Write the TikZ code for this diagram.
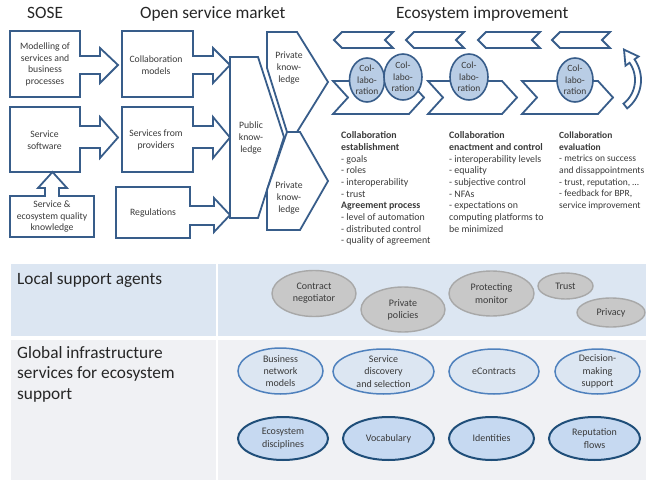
\documentclass[tikz,border=0pt]{standalone}
\usepackage{fontspec}
\setmainfont{Carlito}
\definecolor{ln}{HTML}{385D8A}
\definecolor{txt}{HTML}{3A3A3A}
\definecolor{ttl}{HTML}{262626}
\definecolor{collfill}{HTML}{B9CDE5}
\definecolor{bandA}{HTML}{DCE6F2}
\definecolor{bandB}{HTML}{F0F1F4}
\definecolor{grayfill}{HTML}{C8C8C8}
\definecolor{grayline}{HTML}{A8A8A8}
\definecolor{lightfill}{HTML}{DCE6F2}
\definecolor{lightline}{HTML}{4F81BD}
\definecolor{darkfill}{HTML}{C6D9F1}
\definecolor{darkline}{HTML}{1F4E79}
\begin{document}
\begin{tikzpicture}[x=1pt,y=-1pt,
  blockshape/.style={draw=ln, line width=1.8pt, fill=white, line join=miter},
  boxtext/.style={font=\fontsize{9.7}{11.7}\selectfont, text=txt, align=center, inner sep=0pt},
  titletext/.style={font=\fontsize{17.3}{20.7}\selectfont, text=ttl, inner sep=0pt},
  coltext/.style={font=\fontsize{9.9}{11.7}\selectfont, text=txt, align=left, anchor=north west, inner sep=0pt},
  collabell/.style={draw=ln, line width=1.6pt, fill=collfill},
  grayell/.style={draw=grayline, line width=1.4pt, fill=grayfill},
  lightell/.style={draw=lightline, line width=1.5pt, fill=lightfill},
  darkell/.style={draw=darkline, line width=2pt, fill=darkfill},
  elltext/.style={font=\fontsize{9.5}{11.7}\selectfont, text=txt, align=center, inner sep=0pt},
  bottext/.style={font=\fontsize{10}{12.2}\selectfont, text=txt, align=center, inner sep=0pt}
]
\useasboundingbox (0,0) rectangle (646,482);

% ---------- titles
\node[titletext, anchor=base west] (tsose) at (27,18.5) {SOSE};
\node[titletext, anchor=base west] (tosm) at (140,18.5) {Open service market};
\node[titletext, anchor=base west] (teco) at (396,18.5) {Ecosystem improvement};

% ---------- SOSE / market boxes with block arrows
\draw[blockshape] (10,31) -- (80,31) -- (80,56) -- (100,56) -- (100,48) -- (118,65) -- (100,83) -- (100,74) -- (80,74) -- (80,97) -- (10,97) -- cycle;
\node[boxtext] (mod) at (45,64.5) {Modelling of\\services and\\business\\processes};

\draw[blockshape] (122,31) -- (193,31) -- (193,56) -- (213,56) -- (213,48) -- (230,65) -- (213,83) -- (213,74) -- (193,74) -- (193,97) -- (122,97) -- cycle;
\node[boxtext] (colm) at (156,65) {Collaboration\\models};

\draw[blockshape] (10,107) -- (80,107) -- (80,126) -- (100,126) -- (100,117) -- (118,137.5) -- (100,158) -- (100,148) -- (80,148) -- (80,172) -- (10,172) -- cycle;
\node[boxtext] (ssw) at (44.5,140) {Service\\software};

\draw[blockshape] (122,107) -- (193,107) -- (193,126) -- (213,126) -- (213,117) -- (230,137.5) -- (213,158) -- (213,148) -- (193,148) -- (193,172) -- (122,172) -- cycle;
\node[boxtext] (sfp) at (156,140) {Services from\\providers};

\draw[blockshape] (10,196) -- (45,196) -- (45,188) -- (38,188) -- (52.5,172) -- (67,188) -- (59,188) -- (59,196) -- (94,196) -- (94,237) -- (10,237) -- cycle;
\node[boxtext] (seq) at (52,216.5) {Service \&\\ecosystem quality\\knowledge};

\draw[blockshape] (116,187) -- (190,187) -- (190,206) -- (214,206) -- (214,198) -- (230,215) -- (214,232) -- (214,225) -- (190,225) -- (190,238) -- (116,238) -- cycle;
\node[boxtext] (reg) at (153,213) {Regulations};

% ---------- knowledge shapes
\draw[blockshape] (230,57) -- (258,57) -- (284,137) -- (258,218) -- (230,218) -- cycle;
\node[boxtext] (pubk) at (251,138) {Public\\know-\\ledge};
\draw[blockshape] (267,32) -- (297,32) -- (328,82) -- (297,132) -- (287,132) -- (267,68) -- cycle;
\node[boxtext] (prk1) at (289,68) {Private\\know-\\ledge};
\draw[blockshape] (287,132) -- (300,132) -- (328,181) -- (300,230) -- (267,230) -- (267,190) -- cycle;
\node[boxtext] (prk2) at (289,198) {Private\\know-\\ledge};

% ---------- ecosystem improvement chevrons (top row, pointing left)
\foreach \xl/\xr in {334/393, 406/464, 478/540, 552/610}{
  \draw[blockshape] (\xl,40) -- (\xl+8,32) -- (\xr,32) -- (\xr-8,40) -- (\xr,48) -- (\xl+8,48) -- cycle;
}
% second row, pointing right
\foreach \xl/\xr in {333/409, 428/502, 522/598}{
  \draw[blockshape] (\xl,81) -- (\xr,81) -- (\xr+15,97.5) -- (\xr,114) -- (\xl,114) -- (\xl+15,97.5) -- cycle;
}
% curved return arrow
\draw[blockshape] plot[domain=52:-35,samples=40] ({605+36*cos(\x)},{80+36*sin(\x)})
  -- (638.6,56.5) -- (624,49.6) -- (625.5,65.7)
  -- plot[domain=-35:52,samples=40] ({605+30*cos(\x)},{80+30*sin(\x)}) -- cycle;

% collaboration ellipses
\draw[collabell] (367,80) ellipse [x radius=17.5, y radius=22];
\node[elltext] (c1) at (367,80) {Col-\\labo-\\ration};
\draw[collabell] (403,77) ellipse [x radius=19, y radius=23];
\node[elltext] (c2) at (403,77) {Col-\\labo-\\ration};
\draw[collabell] (469,77) ellipse [x radius=19, y radius=23];
\node[elltext] (c3) at (469,77) {Col-\\labo-\\ration};
\draw[collabell] (575,80) ellipse [x radius=18, y radius=22];
\node[elltext] (c4) at (575,80) {Col-\\labo-\\ration};

% ---------- column texts
\node[coltext] (col1) at (341,131.5) {\textbf{Collaboration}\\\textbf{establishment}\\- goals\\- roles\\- interoperability\\- trust\\\textbf{Agreement process}\\- level of automation\\- distributed control\\- quality of agreement};
\node[coltext] (col2) at (449,131.5) {\textbf{Collaboration}\\\textbf{enactment and control}\\- interoperability levels\\- equality\\- subjective control\\- NFAs\\- expectations on\\computing platforms to\\be minimized};
\node[coltext, font=\fontsize{9.5}{11.7}\selectfont] (col3) at (559,131.5) {\textbf{Collaboration}\\\textbf{evaluation}\\- metrics on success\\and dissappointments\\- trust, reputation, …\\- feedback for BPR,\\service improvement};

% ---------- bands
\fill[bandA] (11,264) rectangle (216,336);
\fill[bandA] (217.5,264) rectangle (646,336);
\fill[bandB] (11,340) rectangle (216,480);
\fill[bandB] (217.5,340) rectangle (646,480);

\node[titletext, anchor=base west] (lsa) at (17,284) {Local support agents};
\node[titletext, anchor=north west, align=left] (gis) at (17,346) {Global infrastructure\\services for ecosystem\\support};

% local agents
\draw[grayell] (314,293.5) ellipse [x radius=42, y radius=23];
\node[bottext] (cneg) at (314,293.5) {Contract\\negotiator};
\draw[grayell] (403,309.5) ellipse [x radius=42, y radius=22.5];
\node[bottext] (ppol) at (403,309.5) {Private\\policies};
\draw[grayell] (491.5,293.5) ellipse [x radius=42.5, y radius=22.5];
\node[bottext] (pmon) at (491.5,293.5) {Protecting\\monitor};
\draw[grayell] (565.5,286) ellipse [x radius=27.5, y radius=13];
\node[bottext] (trust) at (565.5,286) {Trust};
\draw[grayell] (611,312.5) ellipse [x radius=34, y radius=14.5];
\node[bottext] (priv) at (611,312.5) {Privacy};

% global services, first row
\draw[lightell] (280.5,371) ellipse [x radius=42.5, y radius=23];
\node[bottext] (bnm) at (280.5,371) {Business\\network\\models};
\draw[lightell] (383.5,371.5) ellipse [x radius=50.5, y radius=22.5];
\node[bottext] (sds) at (383.5,371.5) {Service\\discovery\\and selection};
\draw[lightell] (494,371.5) ellipse [x radius=45, y radius=22.5];
\node[bottext] (ectr) at (494,371.5) {eContracts};
\draw[lightell] (597.5,371.5) ellipse [x radius=42.5, y radius=22.5];
\node[bottext] (dms) at (597.5,371.5) {Decision-\\making\\support};

% second row
\draw[darkell] (283,438.5) ellipse [x radius=45, y radius=21.5];
\node[bottext] (ecd) at (283,438.5) {Ecosystem\\disciplines};
\draw[darkell] (388.5,438.5) ellipse [x radius=45.5, y radius=21.5];
\node[bottext] (voc) at (388.5,438.5) {Vocabulary};
\draw[darkell] (491.5,438.5) ellipse [x radius=42.5, y radius=21.5];
\node[bottext] (ids) at (491.5,438.5) {Identities};
\draw[darkell] (594.5,438.5) ellipse [x radius=45.5, y radius=21.5];
\node[bottext] (rep) at (594.5,438.5) {Reputation\\flows};
\end{tikzpicture}
\end{document}
